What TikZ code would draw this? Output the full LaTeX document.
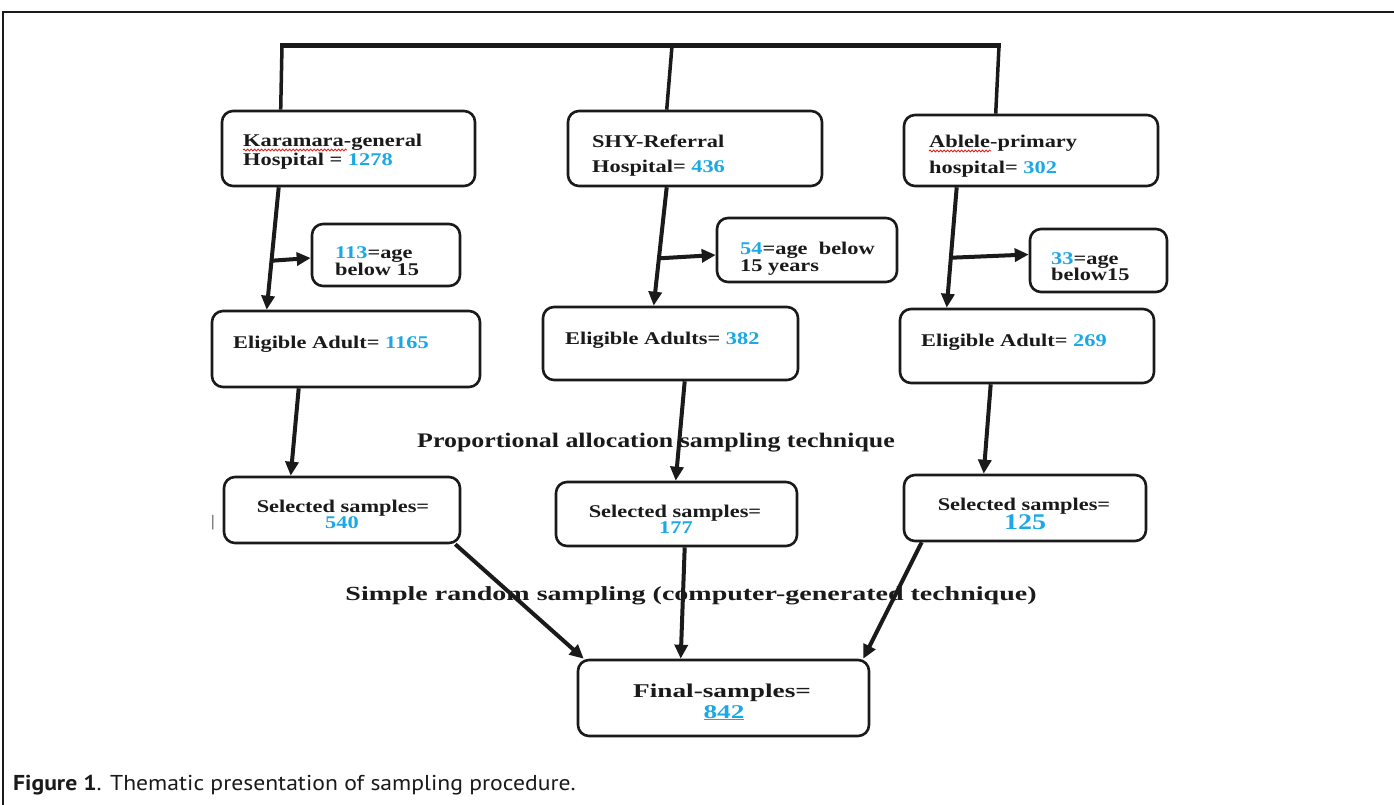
\documentclass[tikz,border=0pt]{standalone}
\usepackage{fontspec}
\setmainfont{Liberation Serif}
\newfontfamily\dfont[FakeStretch=1.25]{Liberation Serif}
\newfontfamily\cfont[FakeStretch=1.4]{Liberation Serif}
\newfontfamily\capfont[FakeStretch=1.1]{PT Sans}
\usetikzlibrary{arrows.meta,decorations.pathmorphing,calc}
\definecolor{nblue}{HTML}{1BA8E6}
\definecolor{squig}{HTML}{E0201B}
\definecolor{ink}{HTML}{1A1A1A}
\newcommand{\bn}[1]{\textcolor{nblue}{#1}}
\begin{document}
\begin{tikzpicture}[x=1pt,y=-1pt,
 box/.style={draw=ink, line width=2.6pt, rounded corners=11pt, inner sep=0pt, fill=white},
 t/.style={inner sep=0pt, anchor=base west, text=ink, font=\dfont\bfseries\fontsize{17.9}{20}\selectfont},
 tc/.style={t, anchor=base},
 arr/.style={draw=ink, line width=4pt, -{Triangle[length=14pt,width=13pt]}},
 bar/.style={draw=ink, line width=3.5pt},
 sq/.style={draw=squig, line width=0.8pt, decorate, decoration={snake, amplitude=1pt, segment length=3.5pt}}]
\useasboundingbox (0,0) rectangle (1394,805);
\fill[white] (0,0) rectangle (1394,805);
% frame
\draw[line width=2pt, ink] (3,805) -- (3,12) -- (1394,12);
% boxes
\node[box, minimum width=253pt, minimum height=75pt] (K1) at (348.5,148.5) {};
\node[box, minimum width=254pt, minimum height=75pt] (S1) at (695,148.5) {};
\node[box, minimum width=254pt, minimum height=71pt] (A1) at (1031,150.5) {};
\node[box, minimum width=148pt, minimum height=62pt] (Kage) at (386,255) {};
\node[box, minimum width=180pt, minimum height=64pt] (Sage) at (807,250) {};
\node[box, minimum width=137pt, minimum height=63pt] (Aage) at (1098.5,260.5) {};
\node[box, minimum width=268pt, minimum height=76pt] (K2) at (346,349) {};
\node[box, minimum width=255pt, minimum height=73pt] (S2) at (670.5,343.5) {};
\node[box, minimum width=254pt, minimum height=74pt] (A2) at (1027,346) {};
\node[box, minimum width=236pt, minimum height=66pt] (K3) at (342,510) {};
\node[box, minimum width=241pt, minimum height=64pt] (S3) at (676.5,514) {};
\node[box, minimum width=242pt, minimum height=66pt] (A3) at (1025,508) {};
\node[box, minimum width=291pt, minimum height=76pt] (F) at (723.5,698) {};
% texts
\node[t] (k1a) at (243,147) {Karamara-general};
\node[t] (k1b) at (243,166) {Hospital = \bn{1278}};
\node[t] (s1a) at (592,148) {SHY-Referral};
\node[t] (s1b) at (592,173) {Hospital= \bn{436}};
\node[t] (a1a) at (929,148) {Ablele-primary};
\node[t] (a1b) at (929,174) {hospital= \bn{302}};
\node[t] (kg1) at (335,258) {\bn{113}=age};
\node[t] (kg2) at (335,275) {below 15};
\node[t] (sg1) at (740,254) {\bn{54}=age\ \ below};
\node[t] (sg2) at (740,271) {15 years};
\node[t] (ag1) at (1051,264) {\bn{33}=age};
\node[t] (ag2) at (1051,280) {below15};
\node[t] (k2t) at (233,348) {Eligible Adult= \bn{1165}};
\node[t] (s2t) at (565,344) {Eligible Adults= \bn{382}};
\node[t] (a2t) at (921,346) {Eligible Adult= \bn{269}};
\node[tc] (k3a) at (343,512) {Selected samples=};
\node[tc] (k3b) at (342,528) {\bn{540}};
\node[tc] (s3a) at (675,517) {Selected samples=};
\node[tc] (s3b) at (676,533) {\bn{177}};
\node[tc] (a3a) at (1024,510) {Selected samples=};
\node[tc, font=\dfont\bfseries\fontsize{22.4}{24}\selectfont] (a3b) at (1025,529) {\bn{125}};
\node[tc, font=\cfont\bfseries\fontsize{19.5}{22}\selectfont] (f1) at (722,697) {Final-samples=};
\node[tc, font=\cfont\bfseries\fontsize{19.5}{22}\selectfont, text=nblue] (f2) at (724,718) {\underline{842}};
\node[tc, font=\dfont\bfseries\fontsize{20.7}{23}\selectfont] (pl) at (656,447) {Proportional allocation sampling technique};
\node[tc, font=\cfont\bfseries\fontsize{20}{22}\selectfont] (rl) at (691,600) {Simple random sampling (computer-generated technique)};
\node[tc, font=\fontsize{16}{19}\selectfont] (mark) at (213,526) {|};
\node[inner sep=0pt, anchor=base west, text=ink, font=\capfont\fontsize{21.5}{24}\selectfont] (cap) at (13,790) {\textbf{Figure 1}. Thematic presentation of sampling procedure.};
% spelling squiggles
\draw[sq] ([yshift=-3pt]k1a.base west) -- ([yshift=-3pt,xshift=104pt]k1a.base west);
\draw[sq] ([yshift=-3pt]a1a.base west) -- ([yshift=-3pt,xshift=62pt]a1a.base west);
% top bracket
\coordinate (tl) at (282,46);
\coordinate (tr) at (999,46);
\coordinate (tm) at (672,46);
\draw[ink, line width=5pt] ([xshift=-2pt]tl) -- ([xshift=2pt]tr);
\draw[bar] (tl) -- ([xshift=60pt]K1.north west);
\draw[bar] (tm) -- ([xshift=100pt]S1.north west);
\draw[bar] (tr) -- ([xshift=93pt]A1.north west);
% vertical flows
\draw[arr] ([xshift=58pt]K1.south west) -- ([xshift=56pt]K2.north west);
\draw[arr] ([xshift=100pt]S1.south west) -- ([xshift=112pt]S2.north west);
\draw[arr] ([xshift=54pt]A1.south west) -- ([xshift=48pt]A2.north west);
\coordinate (kb) at ($([xshift=58pt]K1.south west)!0.6!([xshift=56pt]K2.north west)$);
\coordinate (sb) at ($([xshift=100pt]S1.south west)!0.6!([xshift=112pt]S2.north west)$);
\coordinate (ab) at ($([xshift=54pt]A1.south west)!0.585!([xshift=48pt]A2.north west)$);
\draw[arr] (kb) -- ([yshift=-3pt]Kage.west);
\draw[arr] (sb) -- ([yshift=-5pt]Sage.west);
\draw[arr] (ab) -- ([yshift=6pt]Aage.west);
\draw[arr] ([xshift=88pt]K2.south west) -- ([xshift=68pt]K3.north west);
\draw[arr] ([xshift=143pt]S2.south west) -- ([xshift=121pt]S3.north west);
\draw[arr] ([xshift=92pt]A2.south west) -- ([xshift=81pt]A3.north west);
\draw[arr] ([xshift=-6pt]K3.south east) -- ([xshift=7pt]F.north west);
\draw[arr] ([xshift=130pt]S3.south west) -- ([xshift=104pt]F.north west);
\draw[arr] ([xshift=19pt]A3.south west) -- ([xshift=-7pt]F.north east);
\end{tikzpicture}
\end{document}
